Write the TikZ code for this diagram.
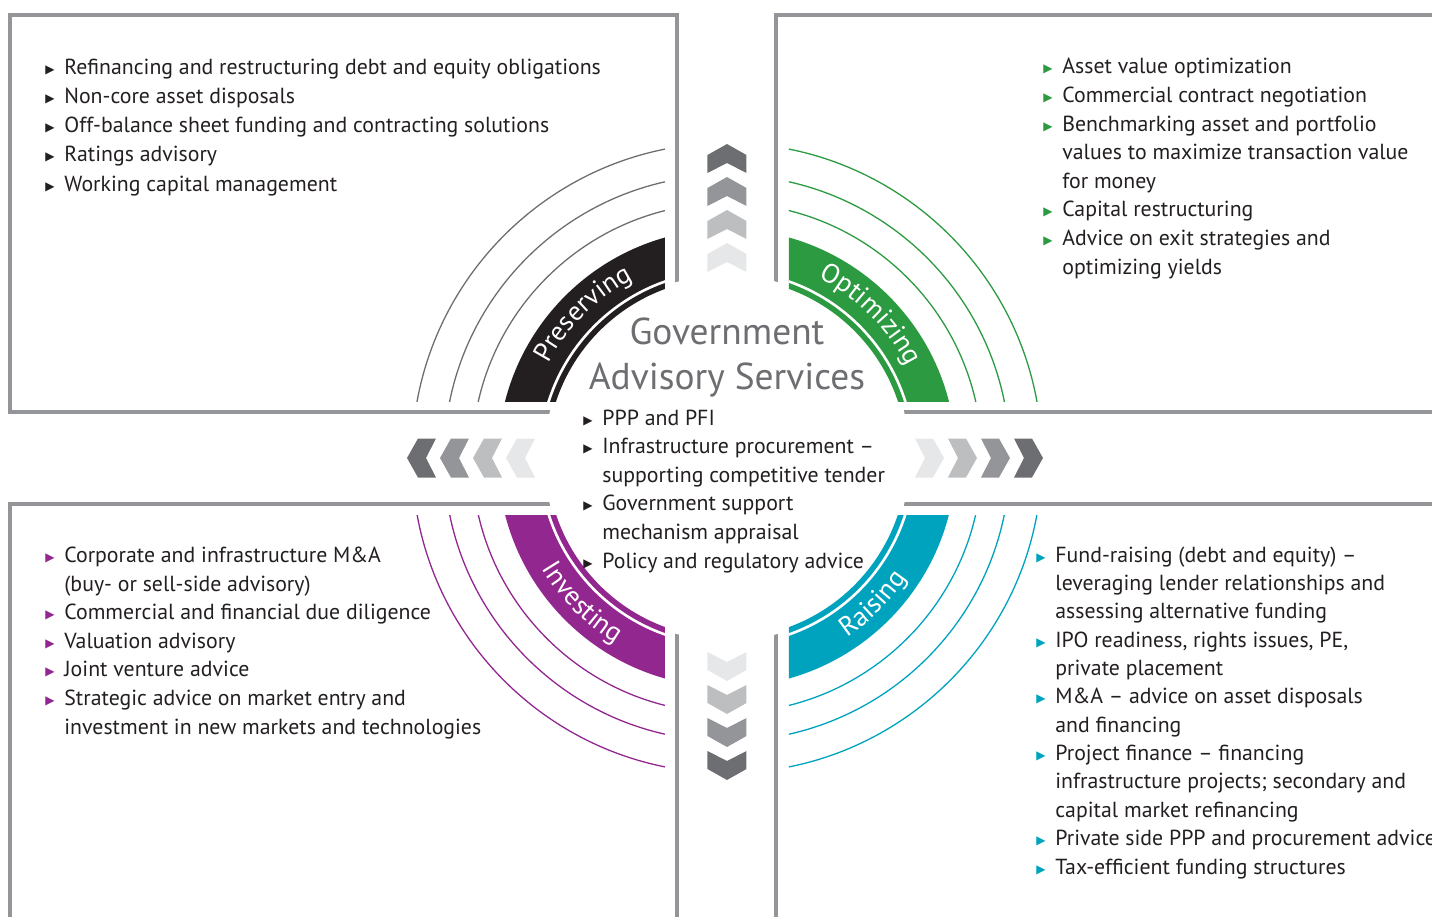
\documentclass[tikz,border=0pt]{standalone}
\usepackage{fontspec}
\setmainfont{PT Sans}
\newfontfamily\symfont{DejaVu Sans}
\usetikzlibrary{decorations.text}

\definecolor{eyblack}{HTML}{231F20}
\definecolor{eygreen}{HTML}{2C9A41}
\definecolor{eypurple}{HTML}{91278F}
\definecolor{eyteal}{HTML}{00A3BE}
\definecolor{ringgray}{HTML}{6D6E71}
\definecolor{framegray}{HTML}{939598}
\definecolor{chevA}{HTML}{6D6E71}
\definecolor{chevB}{HTML}{939598}
\definecolor{chevC}{HTML}{BCBEC0}
\definecolor{chevD}{HTML}{E6E7E8}
\definecolor{titlegray}{HTML}{6D6E71}

\newcommand{\labfont}{\fontsize{13.5}{13.5}\selectfont}
\newcommand{\bul}[1]{\makebox[9.5pt][l]{\raisebox{0.5pt}{\textcolor{#1}{\symfont\fontsize{6}{6}\selectfont ▶}}}}
\newcommand{\ind}{\hspace*{9.5pt}}

\tikzset{
  frame/.style={draw=framegray, line width=2pt},
  ring/.style={line width=0.65pt},
  itemlist/.style={anchor=base west, inner sep=0pt, align=left, text=eyblack,
    font=\fontsize{10.9}{#1}\selectfont},
  itemlist/.default=14.3,
  bandlabel/.style={decorate, decoration={text along path, text align=center,
    text={|\labfont\color{white}|#1}}},
}

\begin{document}
\begin{tikzpicture}[x=0.5pt, y=0.5pt]

\useasboundingbox (-727,458) rectangle (705,-459);
\clip (-727,458) rectangle (705,-459);

% frames
\draw[frame] (-717,443) rectangle (-50,46);
\draw[frame] (49,443) rectangle (800,46);
\draw[frame] (-717,-46) rectangle (-50,-600);
\draw[frame] (49,-46) rectangle (800,-600);
\fill[white] (0,0) circle (183);

% quadrant bands and rings
\foreach \sx/\sy/\col/\rcol in {-1/1/eyblack/ringgray, 1/1/eygreen/eygreen, -1/-1/eypurple/eypurple, 1/-1/eyteal/eyteal}{%
  \begin{scope}
    \clip ({62*\sx},{57*\sy}) rectangle ({400*\sx},{400*\sy});
    \fill[\col, even odd rule] (0,0) circle (229) circle (180);
    \draw[white, line width=1.3pt] (0,0) circle (187);
    \foreach \r in {255,283,315}
      \draw[\rcol, ring] (0,0) circle (\r);
  \end{scope}
}

% chevrons
\foreach \rot/\d in {0/314,90/320,180/322,270/316}{%
  \begin{scope}[rotate=\rot]
    \foreach \k/\c in {0/chevA,1/chevB,2/chevC,3/chevD}
      \fill[\c] (0,{\d-33*\k}) -- ++(19.5,-11) -- ++(0,-18) -- ++(-19.5,10)
        -- ++(-19.5,-10) -- ++(0,18) -- cycle;
  \end{scope}
}

% band labels
\path[bandlabel=Preserving] (160:202) arc[start angle=160, end angle=110, radius=202];
\path[bandlabel=Optimizing] (70:202) arc[start angle=70, end angle=20, radius=202];
\path[bandlabel=Investing] (200:216) arc[start angle=200, end angle=250, radius=216];
\path[bandlabel=Raising] (290:216) arc[start angle=290, end angle=340, radius=216];

% centre
\node[font=\fontsize{18.7}{22.5}\selectfont, text=titlegray, align=center] (title) at (0,100)
  {Government\\Advisory Services};

\node[itemlist] (corelist) at (-144,-110) {%
  \bul{eyblack}PPP and PFI\\
  \bul{eyblack}Infrastructure procurement --\\
  \ind supporting competitive tender\\
  \bul{eyblack}Government support\\
  \ind mechanism appraisal\\
  \bul{eyblack}Policy and regulatory advice};

% quadrant lists (anchored on their last line)
\node[itemlist=14.6] (preslist) at (-682,267) {%
  \bul{eyblack}Refinancing and restructuring debt and equity obligations\\
  \bul{eyblack}Non-core asset disposals\\
  \bul{eyblack}Off-balance sheet funding and contracting solutions\\
  \bul{eyblack}Ratings advisory\\
  \bul{eyblack}Working capital management};

\node[itemlist] (optlist) at (316,184) {%
  \bul{eygreen}Asset value optimization\\
  \bul{eygreen}Commercial contract negotiation\\
  \bul{eygreen}Benchmarking asset and portfolio\\
  \ind values to maximize transaction value\\
  \ind for money\\
  \bul{eygreen}Capital restructuring\\
  \bul{eygreen}Advice on exit strategies and\\
  \ind optimizing yields};

\node[itemlist] (invlist) at (-682,-276) {%
  \bul{eypurple}Corporate and infrastructure M\&A\\
  \ind (buy- or sell-side advisory)\\
  \bul{eypurple}Commercial and financial due diligence\\
  \bul{eypurple}Valuation advisory\\
  \bul{eypurple}Joint venture advice\\
  \bul{eypurple}Strategic advice on market entry and\\
  \ind investment in new markets and technologies};

\node[itemlist=14.18] (raislist) at (309,-416) {%
  \bul{eyteal}Fund-raising (debt and equity) --\\
  \ind leveraging lender relationships and\\
  \ind assessing alternative funding\\
  \bul{eyteal}IPO readiness, rights issues, PE,\\
  \ind private placement\\
  \bul{eyteal}M\&A -- advice on asset disposals\\
  \ind and financing\\
  \bul{eyteal}Project finance -- financing\\
  \ind infrastructure projects; secondary and\\
  \ind capital market refinancing\\
  \bul{eyteal}Private side PPP and procurement advice\\
  \bul{eyteal}Tax-efficient funding structures};

\end{tikzpicture}
\end{document}
